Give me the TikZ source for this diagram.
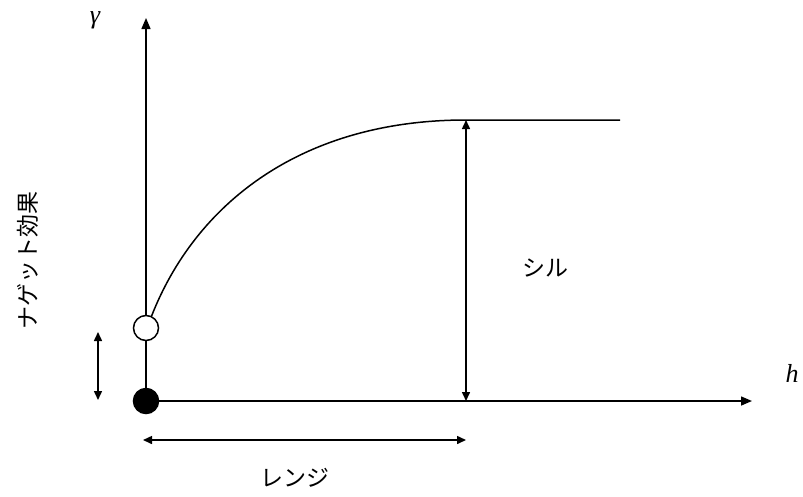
\documentclass[tikz,border=0pt]{standalone}
\usepackage{fontspec}
\setmainfont{Liberation Serif}
\newfontfamily\jfont{Noto Sans CJK JP}
\usetikzlibrary{arrows.meta}
\tikzset{
  axis/.style={line width=1.5pt,-{Triangle[length=11pt,width=9pt]}},
  dim/.style={line width=1.5pt,{Triangle[length=9pt,width=8pt]}-{Triangle[length=9pt,width=8pt]}},
  dot/.style={circle,draw,line width=1.5pt,minimum size=25pt,inner sep=0pt},
  jlab/.style={font=\jfont\fontsize{23}{27}\selectfont},
  mlab/.style={font=\fontsize{26}{30}\selectfont\itshape}
}
\begin{document}
\begin{tikzpicture}[x=1pt,y=-1pt]
\useasboundingbox (0,0) rectangle (803,496);

% axes
\coordinate (ytop) at (146,18);
\coordinate (xend) at (752,401);
\coordinate (orig) at (146,401);
\draw[axis] (orig) -- (ytop);
\draw[axis] (orig) -- (xend);

% nugget and origin
\node[dot,fill=white] (nug) at (146,328) {};
\node[dot,fill=black] (zero) at (orig) {};

% model curve
\coordinate (sill) at (466,120);
\coordinate (flat) at (620,120);
\coordinate (sillb) at (466,401);
\draw[line width=1.5pt] (nug.65) .. controls (195,205) and (300,120) .. (sill) -- (flat);

% dimension arrows
\coordinate (ngt) at (98,332);
\coordinate (ngb) at (98,400);
\coordinate (rl) at (143,440);
\coordinate (rr) at (466,440);
\draw[dim] (sill) -- (sillb);
\draw[dim] (ngt) -- (ngb);
\draw[dim] (rl) -- (rr);

% labels
\node[mlab] (gam) at (95,20) {γ};
\node[mlab] (hlab) at (792,373) {h};
\node[jlab] (silllab) at (545,268) {シル};
\node[jlab] (rangelab) at (295,478) {レンジ};
\node[jlab,rotate=90] (nuglab) at (28,260) {ナゲット効果};
\end{tikzpicture}
\end{document}
